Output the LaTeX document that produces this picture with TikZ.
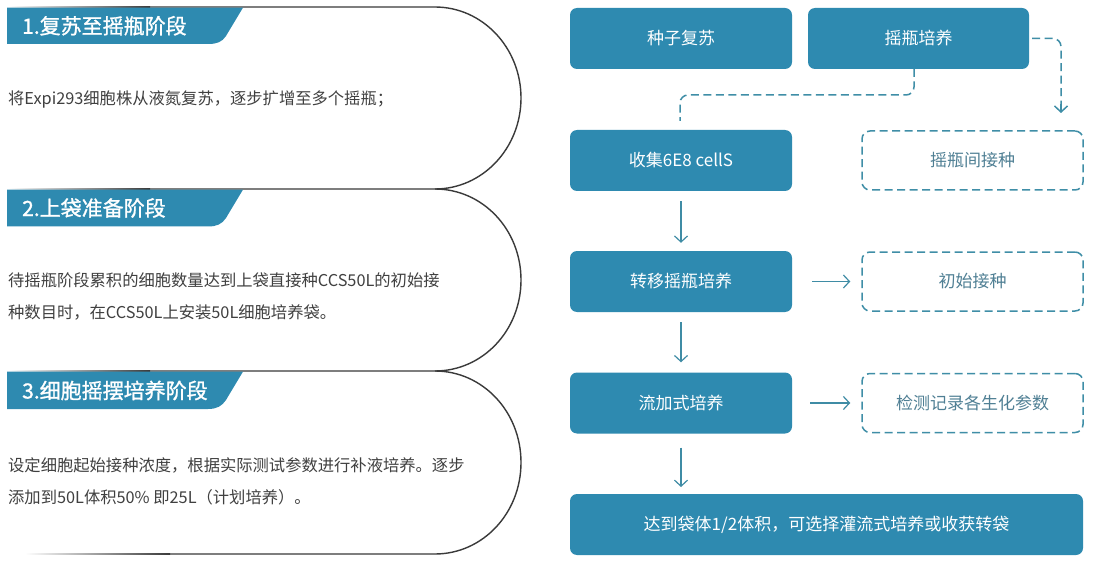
\documentclass[tikz,border=0pt]{standalone}
\usepackage{fontspec}
\setmainfont{Noto Sans CJK SC}
\newfontfamily\hdfont[FakeBold=1.2]{Noto Sans CJK SC}
\usetikzlibrary{arrows.meta}
\definecolor{mainblue}{HTML}{2E8AB0}
\definecolor{linec}{HTML}{3A3A3A}
\definecolor{bodyc}{HTML}{404040}
\definecolor{dashblue}{HTML}{3F8EA7}
\definecolor{dashtext}{HTML}{4F7F94}
\definecolor{arrowc}{HTML}{3F8CA5}
\tikzset{
  secline/.style={draw=linec, line width=1.4pt},
  band/.style={fill=mainblue},
  hdtext/.style={anchor=west, inner sep=0pt, text=white, font=\hdfont\fontsize{21}{24}\selectfont},
  bodytext/.style={anchor=west, inner sep=0pt, text=bodyc, font=\fontsize{16.3}{20}\selectfont},
  solidbox/.style={rectangle, rounded corners=7pt, fill=mainblue, text=white,
    minimum width=222pt, minimum height=61pt, inner sep=0pt, font=\fontsize{17}{20}\selectfont},
  dashbox/.style={rectangle, rounded corners=8pt, draw=dashblue, line width=1.5pt,
    dash pattern=on 8pt off 4.5pt, text=dashtext,
    minimum width=221pt, minimum height=59pt, inner sep=0pt, font=\fontsize{17}{20}\selectfont},
  arr/.style={draw=arrowc, line width=1.2pt, -{Straight Barb[length=6pt,width=13pt]}},
  dasharr/.style={draw=dashblue, line width=1.5pt, dash pattern=on 8pt off 4.5pt, rounded corners=8pt},
}
\begin{document}
\begin{tikzpicture}[x=1pt,y=-1pt]
\useasboundingbox[fill=white] (0,0) rectangle (1096,567);

% ---------- left: section outlines ----------
\fill[left color=white, right color=linec] (8,6.3) rectangle (150,7.7);
\draw[secline] (150,7) -- (435,7)
  .. controls (482.5,7) and (521,47.7) .. (521,98)
  .. controls (521,148.3) and (482.5,189) .. (435,189);
\fill[left color=white, right color=linec] (8,188.3) rectangle (150,189.7);
\draw[secline] (150,189) -- (435,189)
  .. controls (482.5,189) and (521,229.3) .. (521,280)
  .. controls (521,330.7) and (482.5,371) .. (435,371);
\fill[left color=white, right color=linec] (8,370.3) rectangle (150,371.7);
\draw[secline] (150,371) -- (435,371)
  .. controls (482.5,371) and (521,411.5) .. (521,462.5)
  .. controls (521,513.5) and (482.5,554) .. (435,554) -- (170,554);
\fill[left color=white, right color=linec] (25,553.3) rectangle (170,554.7);

% ---------- header bands ----------
\fill[band] (7,7.6) -- (243,7.6) -- (226,36) .. controls (222,42) and (217,44) .. (208,44) -- (7,44) -- cycle;
\fill[band] (7,189.6) -- (243,189.6) -- (226,218) .. controls (222,224) and (217,226.5) .. (208,226.5) -- (7,226.5) -- cycle;
\fill[band] (7,371.6) -- (243,371.6) -- (226,400) .. controls (222,406) and (217,409) .. (208,409) -- (7,409) -- cycle;

\node[hdtext] (h1) at (22,25.8) {1.复苏至摇瓶阶段};
\node[hdtext] (h2) at (22,208) {2.上袋准备阶段};
\node[hdtext] (h3) at (22,390.5) {3.细胞摇摆培养阶段};

% ---------- body texts ----------
\node[bodytext] (t1) at (8,99) {将Expi293细胞株从液氮复苏，逐步扩增至多个摇瓶；};
\node[bodytext] (t2a) at (8,280) {待摇瓶阶段累积的细胞数量达到上袋直接种CCS50L的初始接};
\node[bodytext] (t2b) at (8,312.5) {种数目时，在CCS50L上安装50L细胞培养袋。};
\node[bodytext] (t3a) at (8,465) {设定细胞起始接种浓度，根据实际测试参数进行补液培养。逐步};
\node[bodytext] (t3b) at (8,497.5) {添加到50L体积50\% 即25L（计划培养）。};

% ---------- right: flow boxes ----------
\node[solidbox] (A) at (681,38.5) {种子复苏};
\node[solidbox, minimum width=221pt] (B) at (918.5,38.5) {摇瓶培养};
\node[solidbox] (C) at (681,160.5) {收集6E8 cellS};
\node[dashbox] (D) at (972.5,160.5) {摇瓶间接种};
\node[solidbox] (E) at (681,281.5) {转移摇瓶培养};
\node[dashbox] (G) at (972.5,281.5) {初始接种};
\node[solidbox] (F) at (681,403) {流加式培养};
\node[dashbox] (H) at (972.5,403) {检测记录各生化参数};
\node[solidbox, minimum width=513pt] (I) at (826.5,524.5) {达到袋体1/2体积，可选择灌流式培养或收获转袋};

% ---------- connectors ----------
\coordinate (bc1) at (914,69);
\coordinate (bc2) at (680,121);
\draw[dasharr] (bc1) -- (914,95) -- (680,95) -- (bc2);
\coordinate (bd0) at (1032,38.5);
\draw[dasharr] (bd0) -- (1061,38.5) -- (1061,112);
\draw[draw=dashblue, line width=1.5pt, -{Straight Barb[length=6pt,width=13pt]}] (1061,104) -- (1061,113);

\coordinate (fi) at (681,487);
\draw[arr] ([yshift=-10pt]C.south) -- ([yshift=8pt]E.north);
\draw[arr] ([yshift=-10pt]E.south) -- ([yshift=10pt]F.north);
\draw[arr] ([yshift=-14pt]F.south) -- (fi);
\draw[arr] ([xshift=20pt]E.east) -- ([xshift=-11pt]G.west);
\draw[arr] ([xshift=18pt]F.east) -- ([xshift=-11pt]H.west);
\end{tikzpicture}
\end{document}
